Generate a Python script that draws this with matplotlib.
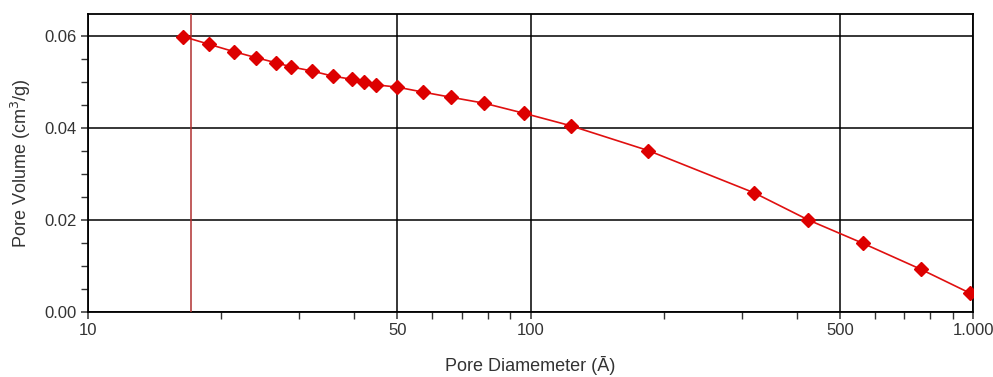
import matplotlib
matplotlib.use("Agg")
import matplotlib.pyplot as plt
from matplotlib.ticker import FixedLocator, FixedFormatter, MultipleLocator

plt.rcParams['font.family'] = ['Liberation Sans', 'DejaVu Sans']

pore_diameter = [16.4, 18.8, 21.4, 24.0, 26.6, 28.8, 32.1, 35.7, 39.5, 42.0, 44.8,
                 50.0, 57.3, 66.1, 78.6, 96.8, 123.3, 184.6, 320.5, 424.8, 565.1,
                 761.9, 984.5]
pore_volume = [0.0599, 0.0582, 0.0566, 0.0553, 0.0542, 0.0533, 0.0524, 0.0513,
               0.0506, 0.0500, 0.0494, 0.0489, 0.0478, 0.0467, 0.0454, 0.0432,
               0.0405, 0.0351, 0.0259, 0.0200, 0.0149, 0.0093, 0.0041]
cutoff_diameter = 17.06
x_major = [10, 50, 100, 500, 1000]
x_major_labels = ["10", "50", "100", "500", "1.000"]
x_minor = [20, 30, 40, 60, 70, 80, 90, 200, 300, 400, 600, 700, 800, 900]
y_major = [0.00, 0.02, 0.04, 0.06]
y_major_labels = ["0.00", "0.02", "0.04", "0.06"]

fig = plt.figure(figsize=(9.93, 3.77), dpi=100)
ax = fig.add_axes([88/993, 1-312/377, (973-88)/993, (312-14)/377])

ax.set_xscale('log')
ax.set_xlim(10, 1000)
ax.set_ylim(0, 0.0648)

ax.plot(pore_diameter, pore_volume, color='#e01010', lw=1.2, marker='D',
        markersize=7, markerfacecolor='#dd0000', markeredgecolor='#dd0000', zorder=4)
ax.axvline(cutoff_diameter, color='#b03030', lw=1.1, zorder=3)

ax.xaxis.set_major_locator(FixedLocator(x_major))
ax.xaxis.set_major_formatter(FixedFormatter(x_major_labels))
ax.xaxis.set_minor_locator(FixedLocator(x_minor))
ax.xaxis.set_minor_formatter(FixedFormatter([""] * len(x_minor)))
ax.yaxis.set_major_locator(FixedLocator(y_major))
ax.yaxis.set_major_formatter(FixedFormatter(y_major_labels))
ax.yaxis.set_minor_locator(MultipleLocator(0.005))

ax.grid(True, which='major', color='black', lw=1.1)
for s in ax.spines.values():
    s.set_color('black')
    s.set_linewidth(1.3)
ax.tick_params(which='both', direction='out', color='#333333', labelcolor='#333333',
               labelsize=12)
ax.tick_params(which='major', length=5, width=1.1)
ax.tick_params(which='minor', length=5, width=1.0)
ax.tick_params(axis='x', pad=3)
ax.tick_params(axis='y', pad=3)

ax.set_xlabel("Pore Diamemeter (Ā)", fontsize=13, color='#333333', labelpad=13)
ax.set_ylabel("Pore Volume (cm$^3$/g)", fontsize=13, color='#333333', labelpad=8)

fig.savefig("out.png", dpi=100)
